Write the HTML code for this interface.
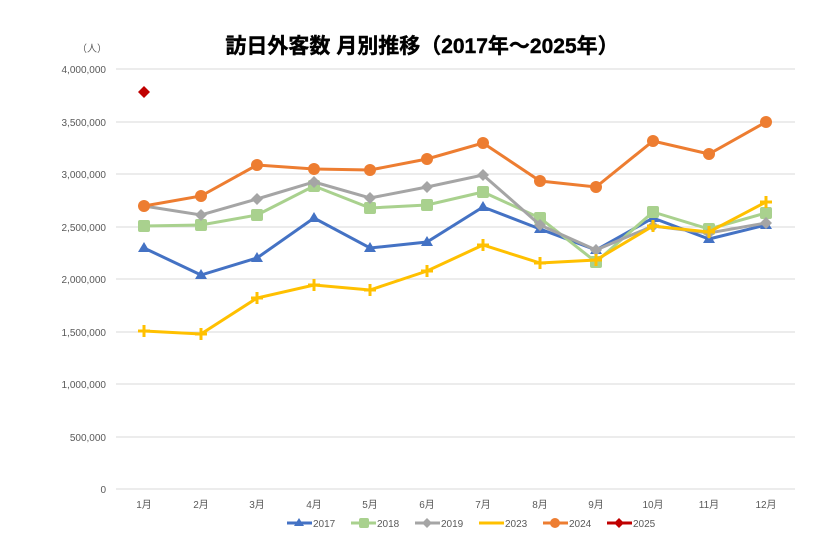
<!DOCTYPE html>
<html><head><meta charset="utf-8"><style>body{margin:0;background:#fff}svg{display:block}text{font-family:"Liberation Sans","Noto Sans CJK JP",sans-serif}</style></head><body>
<svg width="837" height="536" viewBox="0 0 837 536" xmlns="http://www.w3.org/2000/svg">
<text x="422" y="53" font-size="21" font-weight="bold" text-anchor="middle" fill="#000" stroke="#000" stroke-width="0.4">訪日外客数 月別推移（2017年～2025年）</text>
<text x="92" y="52" font-size="10" fill="#595959" text-anchor="middle">（人）</text>
<g stroke="#d9d9d9" stroke-width="1">
<line x1="116" y1="69" x2="795" y2="69"/><line x1="116" y1="122" x2="795" y2="122"/><line x1="116" y1="174" x2="795" y2="174"/><line x1="116" y1="227" x2="795" y2="227"/><line x1="116" y1="279" x2="795" y2="279"/><line x1="116" y1="332" x2="795" y2="332"/><line x1="116" y1="384" x2="795" y2="384"/><line x1="116" y1="437" x2="795" y2="437"/><line x1="116" y1="489" x2="795" y2="489"/>
</g>
<g font-size="10" fill="#595959" text-anchor="end">
<text x="106" y="73">4,000,000</text><text x="106" y="126">3,500,000</text><text x="106" y="178">3,000,000</text><text x="106" y="231">2,500,000</text><text x="106" y="283">2,000,000</text><text x="106" y="336">1,500,000</text><text x="106" y="388">1,000,000</text><text x="106" y="441">500,000</text><text x="106" y="493">0</text>
</g>
<g font-size="10" fill="#595959" text-anchor="middle">
<text x="144" y="508">1月</text><text x="201" y="508">2月</text><text x="257" y="508">3月</text><text x="314" y="508">4月</text><text x="370" y="508">5月</text><text x="427" y="508">6月</text><text x="483" y="508">7月</text><text x="540" y="508">8月</text><text x="596" y="508">9月</text><text x="653" y="508">10月</text><text x="709" y="508">11月</text><text x="766" y="508">12月</text>
</g>
<polyline fill="none" stroke="#4472c4" stroke-width="3" points="144,248 201,275 257,258 314,218 370,248 427,242 483,207 540,229 596,250 653,218 709,239 766,225"/>
<g fill="#4472c4"><path d="M144,242l6,10h-12z"/><path d="M201,269l6,10h-12z"/><path d="M257,252l6,10h-12z"/><path d="M314,212l6,10h-12z"/><path d="M370,242l6,10h-12z"/><path d="M427,236l6,10h-12z"/><path d="M483,201l6,10h-12z"/><path d="M540,223l6,10h-12z"/><path d="M596,244l6,10h-12z"/><path d="M653,212l6,10h-12z"/><path d="M709,233l6,10h-12z"/><path d="M766,219l6,10h-12z"/></g>
<polyline fill="none" stroke="#a9d18e" stroke-width="3" points="144,226 201,225 257,215 314,186 370,208 427,205 483,192 540,218 596,262 653,212 709,229 766,213"/>
<g fill="#a9d18e"><rect x="138" y="220" width="12" height="12" rx="2"/><rect x="195" y="219" width="12" height="12" rx="2"/><rect x="251" y="209" width="12" height="12" rx="2"/><rect x="308" y="180" width="12" height="12" rx="2"/><rect x="364" y="202" width="12" height="12" rx="2"/><rect x="421" y="199" width="12" height="12" rx="2"/><rect x="477" y="186" width="12" height="12" rx="2"/><rect x="534" y="212" width="12" height="12" rx="2"/><rect x="590" y="256" width="12" height="12" rx="2"/><rect x="647" y="206" width="12" height="12" rx="2"/><rect x="703" y="223" width="12" height="12" rx="2"/><rect x="760" y="207" width="12" height="12" rx="2"/></g>
<polyline fill="none" stroke="#a5a5a5" stroke-width="3" points="144,206 201,215 257,199 314,182 370,198 427,187 483,175 540,225 596,250 653,226 709,233 766,223"/>
<g fill="#a5a5a5"><path d="M144,200l6,6l-6,6l-6,-6z"/><path d="M201,209l6,6l-6,6l-6,-6z"/><path d="M257,193l6,6l-6,6l-6,-6z"/><path d="M314,176l6,6l-6,6l-6,-6z"/><path d="M370,192l6,6l-6,6l-6,-6z"/><path d="M427,181l6,6l-6,6l-6,-6z"/><path d="M483,169l6,6l-6,6l-6,-6z"/><path d="M540,219l6,6l-6,6l-6,-6z"/><path d="M596,244l6,6l-6,6l-6,-6z"/><path d="M653,220l6,6l-6,6l-6,-6z"/><path d="M709,227l6,6l-6,6l-6,-6z"/><path d="M766,217l6,6l-6,6l-6,-6z"/></g>
<polyline fill="none" stroke="#ffc000" stroke-width="3" points="144,331 201,334 257,298 314,285 370,290 427,271 483,245 540,263 596,260 653,226 709,232 766,202"/>
<g stroke="#ffc000" stroke-width="3"><path d="M138,331h12M144,325v12"/><path d="M195,334h12M201,328v12"/><path d="M251,298h12M257,292v12"/><path d="M308,285h12M314,279v12"/><path d="M364,290h12M370,284v12"/><path d="M421,271h12M427,265v12"/><path d="M477,245h12M483,239v12"/><path d="M534,263h12M540,257v12"/><path d="M590,260h12M596,254v12"/><path d="M647,226h12M653,220v12"/><path d="M703,232h12M709,226v12"/><path d="M760,202h12M766,196v12"/></g>
<polyline fill="none" stroke="#ed7d31" stroke-width="3" points="144,206 201,196 257,165 314,169 370,170 427,159 483,143 540,181 596,187 653,141 709,154 766,122"/>
<g fill="#ed7d31"><circle cx="144" cy="206" r="6"/><circle cx="201" cy="196" r="6"/><circle cx="257" cy="165" r="6"/><circle cx="314" cy="169" r="6"/><circle cx="370" cy="170" r="6"/><circle cx="427" cy="159" r="6"/><circle cx="483" cy="143" r="6"/><circle cx="540" cy="181" r="6"/><circle cx="596" cy="187" r="6"/><circle cx="653" cy="141" r="6"/><circle cx="709" cy="154" r="6"/><circle cx="766" cy="122" r="6"/></g>
<path d="M144,86l6,6l-6,6l-6,-6z" fill="#c00000"/>
<g font-size="10" fill="#595959">
<line x1="287" y1="523" x2="312" y2="523" stroke="#4472c4" stroke-width="3"/><path d="M299,518l5,8h-10z" fill="#4472c4"/><text x="313" y="527">2017</text>
<line x1="351" y1="523" x2="376" y2="523" stroke="#a9d18e" stroke-width="3"/><rect x="359" y="518" width="10" height="10" rx="2" fill="#a9d18e"/><text x="377" y="527">2018</text>
<line x1="415" y1="523" x2="440" y2="523" stroke="#a5a5a5" stroke-width="3"/><path d="M427,518l5,5l-5,5l-5,-5z" fill="#a5a5a5"/><text x="441" y="527">2019</text>
<line x1="479" y1="523" x2="504" y2="523" stroke="#ffc000" stroke-width="3"/><text x="505" y="527">2023</text>
<line x1="543" y1="523" x2="568" y2="523" stroke="#ed7d31" stroke-width="3"/><circle cx="555" cy="523" r="5" fill="#ed7d31"/><text x="569" y="527">2024</text>
<line x1="607" y1="523" x2="632" y2="523" stroke="#c00000" stroke-width="3"/><path d="M619,518l5,5l-5,5l-5,-5z" fill="#c00000"/><text x="633" y="527">2025</text>
</g>
</svg>
</body></html>
